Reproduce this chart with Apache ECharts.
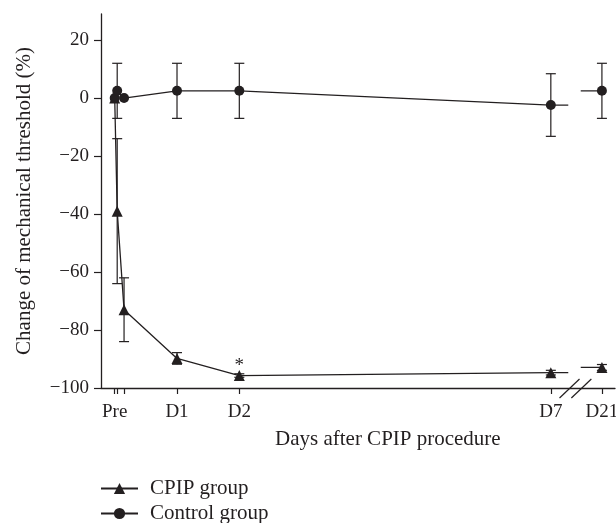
<!DOCTYPE html>
<html>
<head>
<meta charset="utf-8">
<script src="https://cdn.jsdelivr.net/npm/echarts@6/dist/echarts.min.js"></script>
<style>
  html, body { margin: 0; padding: 0; background: #fff; }
  #chart { width: 616px; height: 523px; }
</style>
</head>
<body>
<div id="chart"></div>
<script>
// x positions in days after procedure (D21 sits just past the axis break)
var dayPos = [0, 0.04, 0.15, 1, 2, 7, 7.82];
var tickLabels = ['Pre', '', '', 'D1', 'D2', 'D7', 'D21'];
var yTicks = [-100, -80, -60, -40, -20, 0, 20];
var cpipMean = [0, -39, -73, -89.8, -95.7, -94.7, -92.9];
var cpipErr = [0, 25, 11, 2, 0.6, 0.8, 1];
var ctrlMean = [0, 2.5, 0, 2.5, 2.5, -2.4, 2.5];
var ctrlErr = [0, 9.5, 0, 9.5, 9.5, 10.8, 9.5];
var cpipSig = ['', '', '', '', '*', '', ''];
var groupNames = ['CPIP group', 'Control group'];
var stubEnds = [7.28, 7.48];
var breakMarks = [7.3, 7.49];

var ink = '#231f20';
var serif = '"Liberation Serif", "DejaVu Serif", serif';

function minus(v) {
  return String(v).replace('-', '\u2212');
}

function groupSeries(name, mean, err, symbol, size, sig) {
  var n = dayPos.length;
  var main = [];
  for (var i = 0; i < n - 1; i++) {
    main.push([dayPos[i], mean[i]]);
  }
  var bars = [];
  for (var j = 0; j < n; j++) {
    bars.push([dayPos[j], mean[j], err[j]]);
  }
  var common = {
    type: 'line',
    symbol: symbol,
    symbolSize: size,
    lineStyle: { color: ink, width: 1.3 },
    itemStyle: { color: ink },
    emphasis: { disabled: true },
    animation: false
  };
  return [
    {
      type: 'custom',
      name: name + ' err',
      data: bars,
      animation: false,
      renderItem: function (params, api) {
        var x = api.value(0), y = api.value(1), e = api.value(2);
        if (!e) return null;
        var top = api.coord([x, y + e]);
        var bot = api.coord([x, y - e]);
        var w = 5;
        var st = { stroke: ink, lineWidth: 1.2 };
        return {
          type: 'group',
          children: [
            { type: 'line', shape: { x1: top[0], y1: top[1], x2: bot[0], y2: bot[1] }, style: st },
            { type: 'line', shape: { x1: top[0] - w, y1: top[1], x2: top[0] + w, y2: top[1] }, style: st },
            { type: 'line', shape: { x1: bot[0] - w, y1: bot[1], x2: bot[0] + w, y2: bot[1] }, style: st }
          ]
        };
      }
    },
    Object.assign({}, common, {
      name: name,
      data: main,
      label: {
        show: !!sig,
        position: 'top',
        distance: 0,
        offset: [0, 5],
        color: ink,
        fontFamily: serif,
        fontSize: 19,
        formatter: function (p) { return sig ? sig[p.dataIndex] : ''; }
      }
    }),
    Object.assign({}, common, {
      name: name + ' stub7',
      showSymbol: false,
      data: [[dayPos[n - 2], mean[n - 2]], [stubEnds[0], mean[n - 2]]]
    }),
    Object.assign({}, common, {
      name: name + ' stub21',
      data: [
        { value: [stubEnds[1], mean[n - 1]], symbol: 'none' },
        [dayPos[n - 1], mean[n - 1]]
      ]
    })
  ];
}

function legendRow(name, top) {
  return {
    left: 100,
    top: top,
    padding: 0,
    itemWidth: 37,
    itemHeight: 14,
    data: [name],
    textStyle: { fontFamily: serif, fontSize: 21, color: ink, padding: [0, 0, 0, 7] }
  };
}

var chart = echarts.init(document.getElementById('chart'));

var labelDays = dayPos.filter(function (d, i) { return tickLabels[i] !== ''; });

chart.setOption({
  animation: false,
  textStyle: { fontFamily: serif, color: ink },
  grid: { left: 101, right: 1, top: 14, bottom: 135, outerBoundsMode: 'none' },
  legend: [legendRow(groupNames[0], 478), legendRow(groupNames[1], 503)],
  xAxis: {
    type: 'value',
    min: -0.22,
    max: 8.03,
    splitLine: { show: false },
    axisLine: { onZero: false, lineStyle: { color: ink, width: 1.3 } },
    axisTick: { length: 6, lineStyle: { color: ink, width: 1.2 }, customValues: dayPos },
    axisLabel: {
      customValues: labelDays,
      margin: 15,
      fontSize: 19,
      color: ink,
      fontFamily: serif,
      formatter: function (v) {
        var i = dayPos.indexOf(v);
        return i >= 0 ? tickLabels[i] : '';
      }
    }
  },
  yAxis: {
    type: 'value',
    min: -100,
    max: 29,
    name: 'Change of mechanical threshold (%)',
    nameLocation: 'middle',
    nameGap: 66,
    nameTextStyle: { fontFamily: serif, fontSize: 21, color: ink },
    splitLine: { show: false },
    axisLine: { show: true, onZero: false, lineStyle: { color: ink, width: 1.3 } },
    axisTick: { show: true, length: 7, lineStyle: { color: ink, width: 1.2 }, customValues: yTicks },
    axisLabel: {
      customValues: yTicks,
      margin: 12,
      fontSize: 19,
      color: ink,
      fontFamily: serif,
      formatter: minus
    }
  },
  graphic: [{
    type: 'text',
    left: 275,
    top: 429,
    style: { text: 'Days after CPIP procedure', font: '21px ' + serif, fill: ink }
  }],
  series: groupSeries(groupNames[0], cpipMean, cpipErr, 'triangle', 11, cpipSig)
    .concat(groupSeries(groupNames[1], ctrlMean, ctrlErr, 'circle', 10, null))
});

// axis-break slashes
var baseY = chart.convertToPixel({ yAxisIndex: 0 }, -100);
var slashes = breakMarks.map(function (d, k) {
  var cx = chart.convertToPixel({ xAxisIndex: 0 }, d);
  return {
    type: 'line',
    id: 'brk' + k,
    shape: { x1: cx - 10, y1: baseY + 10, x2: cx + 10, y2: baseY - 9 },
    style: { stroke: ink, lineWidth: 1.2 }
  };
});
chart.setOption({ graphic: slashes });
</script>
</body>
</html>
